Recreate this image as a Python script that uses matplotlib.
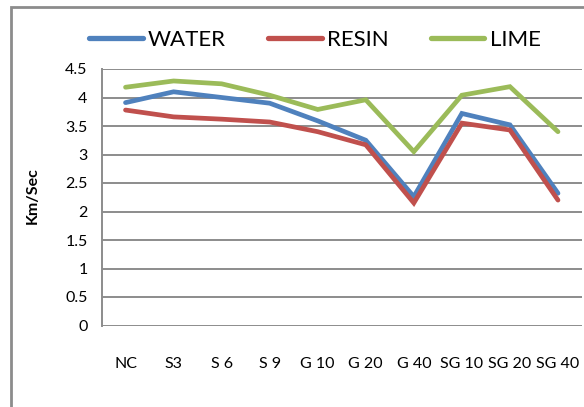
import matplotlib
matplotlib.use("Agg")
import matplotlib.pyplot as plt
from matplotlib.patches import Rectangle
from matplotlib.lines import Line2D

categories = ["NC", "S3", "S 6", "S 9", "G 10", "G 20", "G 40", "SG 10", "SG 20", "SG 40"]
water = [3.91, 4.10, 4.00, 3.90, 3.59, 3.25, 2.26, 3.72, 3.52, 2.32]
resin = [3.78, 3.66, 3.62, 3.57, 3.40, 3.17, 2.15, 3.55, 3.43, 2.20]
lime = [4.18, 4.29, 4.24, 4.04, 3.79, 3.96, 3.05, 4.04, 4.19, 3.40]
series_names = ["WATER", "RESIN", "LIME"]
y_ticks = [0, 0.5, 1, 1.5, 2, 2.5, 3, 3.5, 4, 4.5]
y_tick_labels = ["0", "0.5", "1", "1.5", "2", "2.5", "3", "3.5", "4", "4.5"]

colors = ["#4F81BD", "#C0504D", "#9BBB59"]
grid_c = "#8C8C8C"

plt.rcParams['font.family'] = ['Lato', 'DejaVu Sans']

W, H = 584, 407
fig = plt.figure(figsize=(W / 100, H / 100), dpi=100)

# outer chart border (cropped on right and bottom)
fig.patches.append(Rectangle((11 / W, -0.05), 1.2, 1 - 7 / H + 0.05, transform=fig.transFigure,
                             fill=False, edgecolor="#8C8C8C", linewidth=2.0, clip_on=False))

left, right = 101.5 / W, 582 / W
top, bottom = 1 - 69 / H, 1 - 325.5 / H
ax = fig.add_axes([left, bottom, right - left, top - bottom])

x = list(range(len(categories)))
for vals, c, name in zip([water, resin, lime], colors, series_names):
    ax.plot(x, vals, color=c, linewidth=3.4, solid_capstyle="round", solid_joinstyle="miter", label=name, zorder=3)

ax.set_xlim(-0.5, len(categories) - 0.5)
ax.set_ylim(0, 4.5)
ax.set_yticks(y_ticks)
ax.set_yticklabels(y_tick_labels)
ax.set_xticks(x)
ax.set_xticklabels(categories)
for yv in y_ticks:
    ax.axhline(yv, color=grid_c, linewidth=1.4, zorder=1)
ax.tick_params(axis="both", length=0, labelsize=11.5)
ax.tick_params(axis="x", pad=23)
ax.tick_params(axis="y", pad=10)
for s in ["top", "right", "bottom"]:
    ax.spines[s].set_visible(False)
ax.spines["left"].set_color(grid_c)
ax.spines["left"].set_linewidth(1.4)

fig.text(33 / W, 1 - 196 / H, "Km/Sec", rotation=90, ha="center", va="center",
         fontsize=11.5, fontweight="bold")

handles = [Line2D([0], [0], color=c, linewidth=3.8, solid_capstyle="round") for c in colors]
fig.legend(handles, series_names, loc="center", bbox_to_anchor=(315 / W, 1 - 40 / H), ncol=3,
           frameon=False, fontsize=16, handlelength=2.4, handletextpad=0.25, columnspacing=1.9,
           borderaxespad=0)

fig.savefig("out.png", dpi=100)
